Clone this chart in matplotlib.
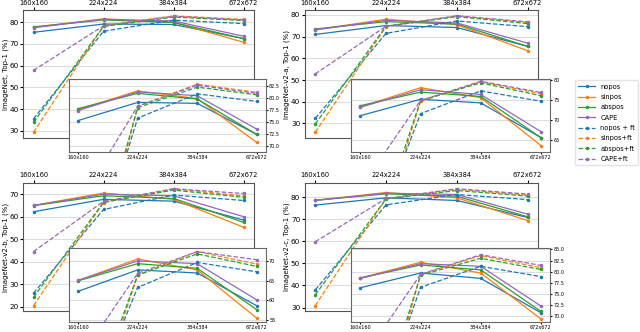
import numpy as np
import matplotlib.pyplot as plt

# --------------------------------------------------------
# data: top-1 accuracy (%) per resolution
# --------------------------------------------------------
resolutions = ['160x160', '224x224', '384x384', '672x672']
methods = ['nopos', 'sinpos', 'abspos', 'CAPE',
           'nopos + ft', 'sinpos+ft', 'abspos+ft', 'CAPE+ft']

imagenet = [
    [75.3, 79.1, 78.9, 72.4],
    [77.6, 81.5, 79.9, 70.7],
    [77.8, 81.0, 79.8, 72.4],
    [77.4, 81.3, 80.5, 73.5],
    [35.5, 75.8, 80.9, 79.3],
    [29.3, 78.3, 82.9, 81.2],
    [33.9, 78.0, 82.3, 80.7],
    [57.8, 78.3, 82.7, 81.0],
]
imagenet_v2a = [
    [71.0, 75.1, 74.2, 65.5],
    [73.2, 78.0, 75.5, 63.5],
    [73.5, 76.9, 75.8, 65.5],
    [73.1, 77.5, 76.3, 67.0],
    [32.3, 71.5, 77.2, 74.6],
    [25.9, 74.6, 79.5, 76.5],
    [29.7, 74.8, 79.2, 76.0],
    [52.8, 74.8, 79.6, 76.8],
]
imagenet_v2b = [
    [62.3, 67.8, 67.0, 58.6],
    [65.1, 70.6, 67.8, 55.4],
    [65.0, 69.4, 68.2, 57.6],
    [65.1, 70.1, 69.4, 60.1],
    [26.1, 63.3, 69.7, 67.3],
    [20.6, 66.4, 72.5, 69.3],
    [24.3, 66.5, 71.9, 68.7],
    [44.6, 66.9, 72.5, 70.4],
]
imagenet_v2c = [
    [76.4, 79.7, 78.5, 70.8],
    [78.6, 82.1, 79.7, 69.4],
    [78.6, 81.5, 80.4, 71.1],
    [78.5, 81.8, 81.2, 72.3],
    [38.0, 76.5, 81.2, 78.9],
    [30.9, 79.4, 83.6, 80.9],
    [35.8, 79.2, 83.0, 80.5],
    [59.8, 79.4, 83.8, 81.4],
]

ylabels = ['ImageNet, Top-1 (%)', 'ImageNet-v2-a, Top-1 (%)',
           'ImageNet-v2-b, Top-1 (%)', 'ImageNet-v2-c, Top-1 (%)']
datasets = [imagenet, imagenet_v2a, imagenet_v2b, imagenet_v2c]
main_ticks = [[30, 40, 50, 60, 70, 80], [30, 40, 50, 60, 70, 80],
              [20, 30, 40, 50, 60, 70], [30, 40, 50, 60, 70, 80]]
inset_ticks = [[70.0, 72.5, 75.0, 77.5, 80.0, 82.5], [65, 70, 75, 80],
               [55, 60, 65, 70], [70.0, 72.5, 75.0, 77.5, 80.0, 82.5, 85.0]]
inset_ylims = [(68.8, 84.1), (62.0, 80.3), (54.5, 73.3), (68.8, 85.2)]
inset_fmt = ['{:.1f}', '{:.0f}', '{:.0f}', '{:.1f}']

colors = ['C0', 'C1', 'C2', 'C4'] * 2
styles = ['-'] * 4 + ['--'] * 4

# axes positions [left, bottom, width, height] in figure fraction
positions = [[0.036, 0.584, 0.361, 0.386], [0.476, 0.584, 0.365, 0.386],
             [0.036, 0.062, 0.361, 0.387], [0.476, 0.062, 0.365, 0.387]]
inset_bottom = [-0.105, -0.105, -0.08, -0.08]

fig = plt.figure(figsize=(6.4, 3.32), dpi=100)
x = np.arange(len(resolutions))


def draw_lines(ax, data, lw):
    for vals, c, ls, name in zip(data, colors, styles, methods):
        ax.plot(x, vals, ls, color=c, marker='.', markersize=3, lw=lw, label=name)


for i, data in enumerate(datasets):
    ax = fig.add_axes(positions[i])
    draw_lines(ax, data, 0.9)
    ax.xaxis.tick_top()
    ax.set_xticks(x)
    ax.set_xticklabels(resolutions, fontsize=4.8)
    ax.set_yticks(main_ticks[i])
    ax.tick_params(axis='y', labelsize=5.2, length=2, pad=1.2)
    ax.tick_params(axis='x', length=2, pad=1.2)
    ax.set_ylabel(ylabels[i], fontsize=5.0, labelpad=0.5)
    ax.grid(axis='y', color='#dddddd', lw=0.8)
    for s in ax.spines.values():
        s.set_color('#555555')
        s.set_linewidth(0.8)

    # zoomed inset
    axin = ax.inset_axes([0.2, inset_bottom[i], 0.85, 0.57])
    draw_lines(axin, data, 0.9)
    axin.set_ylim(*inset_ylims[i])
    axin.set_xticks(x)
    axin.set_xticklabels(resolutions, fontsize=3.4)
    axin.yaxis.tick_right()
    axin.set_yticks(inset_ticks[i])
    axin.set_yticklabels([inset_fmt[i].format(t) for t in inset_ticks[i]])
    axin.tick_params(labelsize=3.5, length=1.5, pad=1)
    axin.grid(axis='y', color='#dddddd', lw=0.8)
    for s in axin.spines.values():
        s.set_color('#666666')
        s.set_linewidth(0.8)

handles, labels = ax.get_legend_handles_labels()
fig.legend(handles, labels, loc='upper left', bbox_to_anchor=(0.893, 0.768),
           fontsize=4.8, frameon=True, framealpha=0.8, edgecolor='#dddddd',
           handlelength=2.5, handletextpad=0.8, labelspacing=0.65, borderpad=0.5)

fig.savefig('out.png', dpi=100)
